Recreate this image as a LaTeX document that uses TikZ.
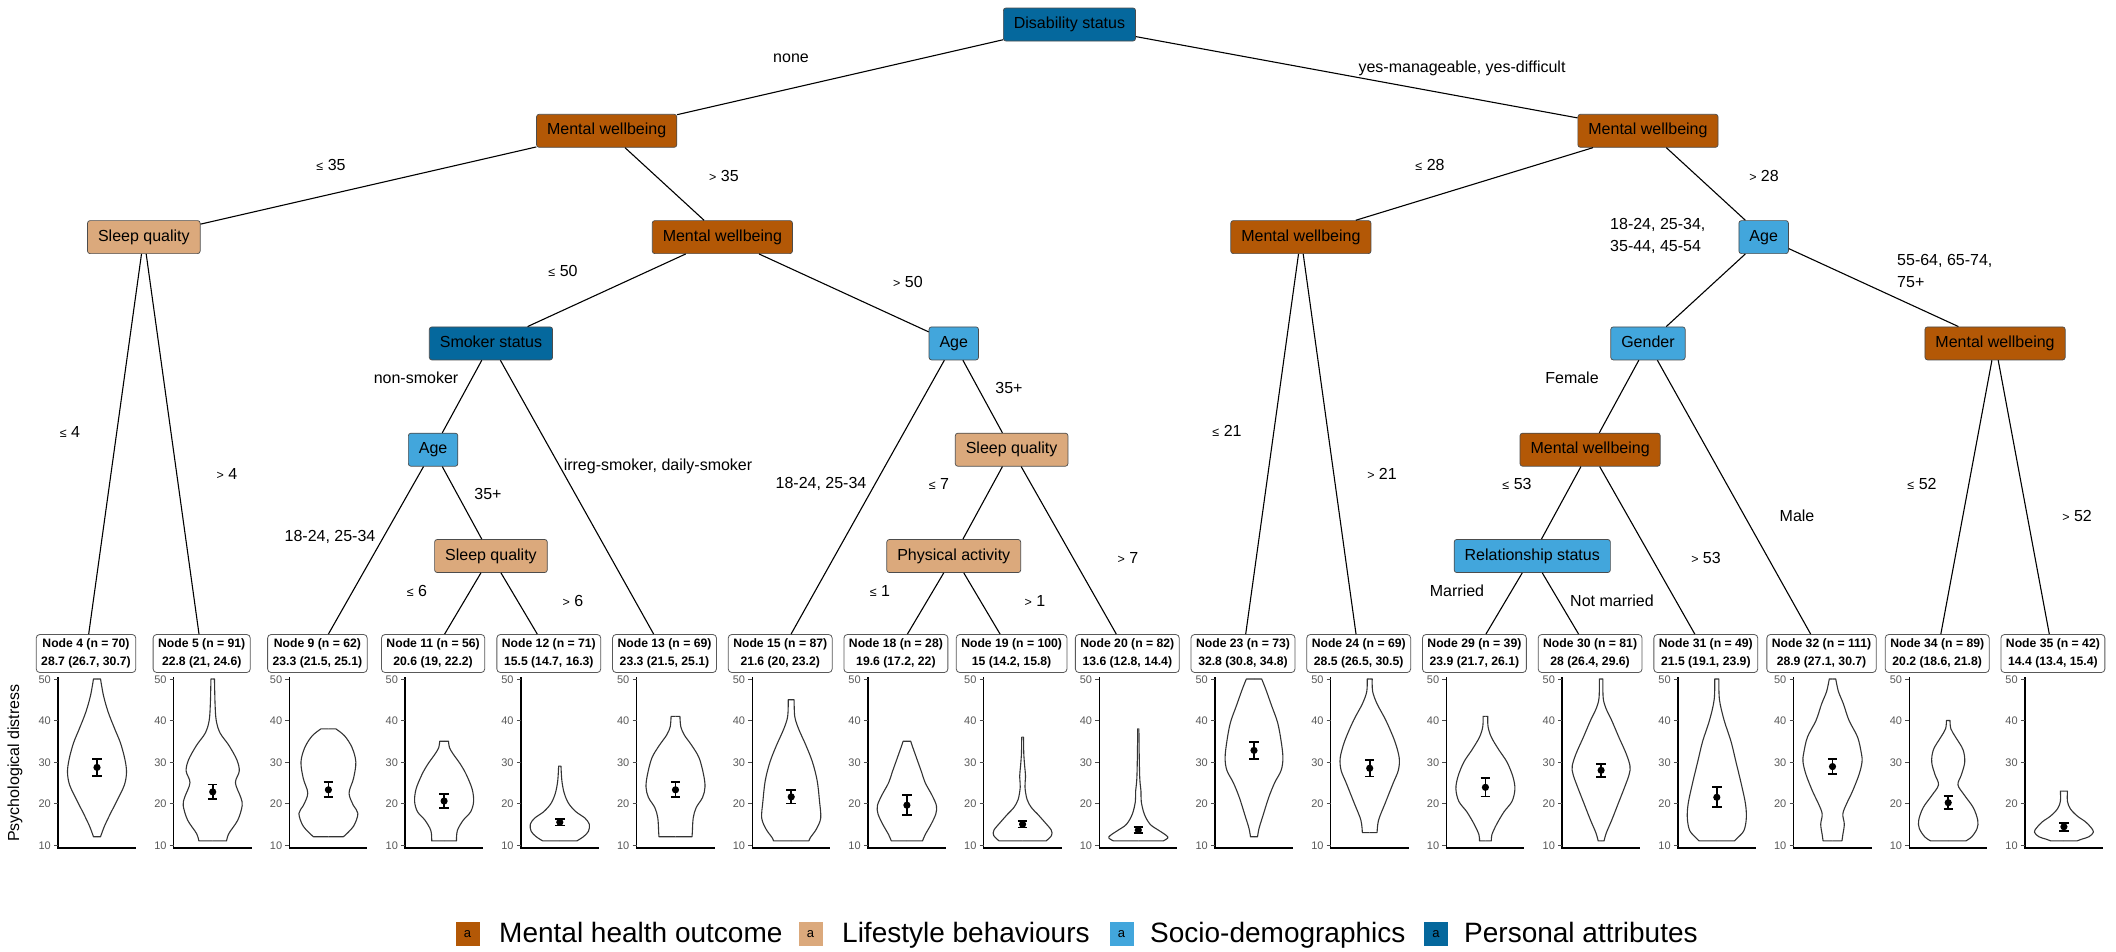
\documentclass[tikz,border=0pt]{standalone}
\usepackage{fontspec}
\setmainfont{Liberation Sans}
\definecolor{mho}{HTML}{B35806}
\definecolor{life}{HTML}{DBA97C}
\definecolor{socio}{HTML}{42A6DC}
\definecolor{pers}{HTML}{05689D}
\newcommand\lesym{{\fontsize{12.5}{12.5}\selectfont ≤}~}
\newcommand\gtsym{{\fontsize{12.5}{12.5}\selectfont >}~}
\tikzset{
 split/.style={draw=black!70, rounded corners=2.5pt, minimum height=33pt, inner xsep=10.5pt, inner ysep=0pt, font=\fontsize{16}{19}\selectfont, line width=0.7pt, text height=11.5pt, text depth=3.5pt},
 elab/.style={font=\fontsize{16}{22}\selectfont, inner sep=0pt, text height=11.5pt, text depth=3.5pt},
 leafbox/.style={draw=black!65, fill=white, rounded corners=3.5pt, align=center, font=\fontsize{12.2}{17.5}\selectfont\bfseries, inner xsep=5pt, inner ysep=4pt, line width=0.8pt, minimum height=38pt},
 conn/.style={line width=1.1pt, black},
 vio/.style={line width=1.1pt, black!80, line join=round},
 axisline/.style={line width=1.4pt, black},
 tickmark/.style={line width=1pt, black!70},
 ticklab/.style={font=\fontsize{11}{13}\selectfont, text=black!65, inner sep=0pt, anchor=east, text height=8pt, text depth=0pt},
 ebar/.style={line width=1.8pt, black},
 lkey/.style={minimum size=24pt, inner sep=0pt, font=\fontsize{13}{15}\selectfont},
 ltext/.style={font=\fontsize{28}{33}\selectfont, anchor=west, inner sep=0pt, text height=20pt, text depth=6pt}
}
% #1 panel index, #2 node id, #3 n, #4 mean, #5 lo, #6 hi, #7 top value, #8 bottom value, #9 half profile
\newcommand\leafpanel[9]{%
 \pgfmathsetmacro\ax{58+115.7*(#1-1)}%
 \pgfmathsetmacro\lx{\ax+28}%
 \pgfmathsetmacro\vx{\ax+39}%
 \pgfmathsetmacro\axe{\ax+78}%
 \node[leafbox] (n#2) at (\lx,653.5) {Node #2 (n = #3)\\#4 (#5, #6)};
 \draw[axisline] (\ax,677) -- (\ax,848) -- (\axe,848);
 \foreach \v in {10,20,30,40,50}{%
   \pgfmathsetmacro\ty{845-4.15*(\v-10)}%
   \draw[tickmark] (\ax-4,\ty) -- (\ax,\ty);
   \node[ticklab] (tl#2-\v) at (\ax-7,\ty) {\v};
 }
 \begin{scope}[shift={(\vx,886.5)},x=29.5pt,y=4.15pt]
   \draw[vio] (0,#7) -- plot[smooth,tension=0.55] coordinates {#9} -- (0,#8);
   \draw[vio,xscale=-1] (0,#7) -- plot[smooth,tension=0.55] coordinates {#9} -- (0,#8);
   \draw[ebar] (-0.16,#5) -- (0.16,#5) (0,#5) -- (0,#6) (-0.16,#6) -- (0.16,#6);
   \fill (0,#4) circle[radius=3.6pt];
 \end{scope}
}
\begin{document}
\begin{tikzpicture}[x=1pt,y=-1pt]
\useasboundingbox[fill=white] (0,0) rectangle (2116,951);

% inner nodes
\node[split,fill=pers] (ds) at (1069.45,24.5) {Disability status};
\node[split,fill=mho] (mA) at (606.65,130.8) {Mental wellbeing};
\node[split,fill=mho] (mJ) at (1647.95,130.8) {Mental wellbeing};
\node[split,fill=life] (sB) at (143.85,237.1) {Sleep quality};
\node[split,fill=mho] (mC) at (722.35,237.1) {Mental wellbeing};
\node[split,fill=mho] (mK) at (1300.85,237.1) {Mental wellbeing};
\node[split,fill=socio] (aL) at (1763.65,237.1) {Age};
\node[split,fill=pers] (sD) at (490.95,343.4) {Smoker status};
\node[split,fill=socio] (aG) at (953.75,343.4) {Age};
\node[split,fill=socio] (gM) at (1647.95,343.4) {Gender};
\node[split,fill=mho] (mP) at (1995.05,343.4) {Mental wellbeing};
\node[split,fill=socio] (aE) at (433.1,449.7) {Age};
\node[split,fill=life] (sH) at (1011.6,449.7) {Sleep quality};
\node[split,fill=mho] (mN) at (1590.1,449.7) {Mental wellbeing};
\node[split,fill=life] (sF) at (490.95,556) {Sleep quality};
\node[split,fill=life] (pI) at (953.75,556) {Physical activity};
\node[split,fill=socio] (rO) at (1532.25,556) {Relationship status};

% leaves
\leafpanel{1}{4}{70}{28.7}{26.7}{30.7}{50}{12}{(0.12,50) (0.22,46) (0.38,42) (0.6,38) (0.8,34.5) (0.95,30.5) (1,27.5) (0.93,24.5) (0.7,21) (0.45,17.5) (0.25,14.5) (0.12,12)}
\leafpanel{2}{5}{91}{22.8}{21}{24.6}{50}{11}{(0.06,50) (0.08,44) (0.12,40) (0.25,37) (0.55,34) (0.82,30.5) (0.9,27.8) (0.77,25) (0.95,21.5) (1,19.5) (0.85,16) (0.55,12.8) (0.47,11)}
\leafpanel{3}{9}{62}{23.3}{21.5}{25.1}{38}{12}{(0.25,38) (0.55,36.3) (0.8,33.5) (0.93,30) (0.85,26) (0.7,22.5) (0.85,19.5) (1,17.6) (0.85,14.5) (0.51,12)}
\leafpanel{4}{11}{56}{20.6}{19}{22.2}{35}{11}{(0.15,35) (0.18,33.5) (0.3,32) (0.55,29.5) (0.75,27) (0.95,23.5) (1,20.5) (0.9,18) (0.65,16) (0.45,13.5) (0.42,11)}
\leafpanel{5}{12}{71}{15.5}{14.7}{16.3}{29}{11}{(0.04,29) (0.07,25.5) (0.15,22.5) (0.3,20) (0.55,18) (0.85,16.5) (1,15) (0.97,13.3) (0.8,12) (0.58,11)}
\leafpanel{6}{13}{69}{23.3}{21.5}{25.1}{41}{12}{(0.15,41) (0.18,38.5) (0.3,36.5) (0.55,34) (0.8,31) (0.95,27) (1,24) (0.92,21.5) (0.7,19) (0.6,16.5) (0.57,13) (0.56,12)}
\leafpanel{7}{15}{87}{21.6}{20}{23.2}{45}{11}{(0.1,45) (0.12,41) (0.25,38) (0.5,34) (0.72,30) (0.88,25.5) (0.96,20.5) (1,16.5) (0.85,13.8) (0.65,11.8) (0.6,11)}
\leafpanel{8}{18}{28}{19.6}{17.2}{22}{35}{11}{(0.13,35) (0.2,33.5) (0.35,30.5) (0.5,27.5) (0.62,25) (0.85,22) (1,19.5) (0.98,17.5) (0.82,15) (0.62,12.5) (0.53,11)}
\leafpanel{9}{19}{100}{15}{14.2}{15.8}{36}{11}{(0.03,36) (0.04,32) (0.07,29) (0.1,26.5) (0.08,24) (0.15,21) (0.3,19) (0.5,17.5) (0.75,15.5) (0.97,13.6) (0.98,12.3) (0.8,11)}
\leafpanel{10}{20}{82}{13.6}{12.8}{14.4}{38}{11}{(0.02,38) (0.03,32) (0.05,26) (0.09,23) (0.1,20.5) (0.2,17.5) (0.4,15) (0.7,13.5) (0.95,12.3) (1,11.7) (0.85,11)}
\leafpanel{11}{23}{73}{32.8}{30.8}{34.8}{50}{12}{(0.26,50) (0.4,47.5) (0.6,43.5) (0.8,39.5) (0.92,35) (0.98,31) (0.92,28) (0.7,25) (0.5,21.5) (0.3,17) (0.17,14) (0.12,12)}
\leafpanel{12}{24}{69}{28.5}{26.5}{30.5}{50}{13}{(0.085,50) (0.1,47) (0.25,44) (0.55,40) (0.85,35) (1,31) (0.97,28) (0.8,25) (0.52,20) (0.3,16) (0.25,13)}
\leafpanel{13}{29}{39}{23.9}{21.7}{26.1}{41}{11}{(0.08,41) (0.09,38.5) (0.2,36) (0.45,33) (0.73,30) (0.93,26.5) (1,23.5) (0.9,20.5) (0.63,18) (0.38,15) (0.22,12.5) (0.2,11)}
\leafpanel{14}{30}{81}{28}{26.4}{29.6}{50}{11}{(0.06,50) (0.07,45.5) (0.16,43) (0.36,40) (0.6,36) (0.85,32) (0.98,29) (0.95,27) (0.8,24) (0.58,20) (0.36,16) (0.18,13) (0.1,11)}
\leafpanel{15}{31}{49}{21.5}{19.1}{23.9}{50}{11}{(0.07,50) (0.09,45) (0.25,40) (0.48,35) (0.65,30) (0.82,25) (0.97,20) (1,16.5) (0.92,13.5) (0.7,11.7) (0.6,11)}
\leafpanel{16}{32}{111}{28.9}{27.1}{30.7}{50}{11}{(0.11,50) (0.2,47) (0.37,44) (0.56,40) (0.85,36) (0.98,32) (1,30) (0.9,27) (0.68,23) (0.48,20) (0.35,17.5) (0.4,15) (0.35,12.5) (0.32,11)}
\leafpanel{17}{34}{89}{20.2}{18.6}{21.8}{40}{11}{(0.06,40) (0.09,38) (0.25,36) (0.5,33) (0.56,30) (0.45,27) (0.33,24.5) (0.55,22) (0.85,19) (1,16) (0.98,14) (0.8,12) (0.6,11)}
\leafpanel{18}{35}{42}{14.4}{13.4}{15.4}{23}{11}{(0.12,23) (0.12,20.5) (0.22,18.7) (0.45,17) (0.73,15.6) (0.92,14.2) (1,13.1) (0.85,12) (0.6,11.4) (0.45,11)}

% connectors
\draw[conn] (ds) -- (mA);
\draw[conn] (ds) -- (mJ);
\draw[conn] (mA) -- (sB);
\draw[conn] (mA) -- (mC);
\draw[conn] (sB) -- (n4);
\draw[conn] (sB) -- (n5);
\draw[conn] (mC) -- (sD);
\draw[conn] (mC) -- (aG);
\draw[conn] (sD) -- (aE);
\draw[conn] (sD) -- (n13);
\draw[conn] (aE) -- (n9);
\draw[conn] (aE) -- (sF);
\draw[conn] (sF) -- (n11);
\draw[conn] (sF) -- (n12);
\draw[conn] (aG) -- (n15);
\draw[conn] (aG) -- (sH);
\draw[conn] (sH) -- (pI);
\draw[conn] (sH) -- (n20);
\draw[conn] (pI) -- (n18);
\draw[conn] (pI) -- (n19);
\draw[conn] (mJ) -- (mK);
\draw[conn] (mJ) -- (aL);
\draw[conn] (mK) -- (n23);
\draw[conn] (mK) -- (n24);
\draw[conn] (aL) -- (gM);
\draw[conn] (aL) -- (mP);
\draw[conn] (gM) -- (mN);
\draw[conn] (gM) -- (n32);
\draw[conn] (mN) -- (rO);
\draw[conn] (mN) -- (n31);
\draw[conn] (rO) -- (n29);
\draw[conn] (rO) -- (n30);
\draw[conn] (mP) -- (n34);
\draw[conn] (mP) -- (n35);

% edge labels
\node[elab] (e1) at (791,58) {none};
\node[elab] (e2) at (1462,68) {yes-manageable, yes-difficult};
\node[elab] (e3) at (331,166) {\lesym 35};
\node[elab] (e4) at (724,177) {\gtsym 35};
\node[elab] (e5) at (1430,166) {\lesym 28};
\node[elab] (e6) at (1764,177) {\gtsym 28};
\node[elab] (e7) at (563,272) {\lesym 50};
\node[elab] (e8) at (908,283) {\gtsym 50};
\node[elab] (e9) at (70,433) {\lesym 4};
\node[elab] (e10) at (227,475) {\gtsym 4};
\node[elab] (e11) at (416,379) {non-smoker};
\node[elab] (e12) at (658,466) {irreg-smoker, daily-smoker};
\node[elab] (e13) at (488,495) {35+};
\node[elab] (e14) at (330,537) {18-24, 25-34};
\node[elab] (e15) at (417,592) {\lesym 6};
\node[elab] (e16) at (573,602) {\gtsym 6};
\node[elab] (e17) at (1009,389) {35+};
\node[elab] (e18) at (821,484) {18-24, 25-34};
\node[elab] (e19) at (939,485) {\lesym 7};
\node[elab] (e20) at (1128,559) {\gtsym 7};
\node[elab] (e21) at (880,592) {\lesym 1};
\node[elab] (e22) at (1035,602) {\gtsym 1};
\node[elab] (e23) at (1227,432) {\lesym 21};
\node[elab] (e24) at (1382,475) {\gtsym 21};
\node[elab] (e25) at (1572,379) {Female};
\node[elab] (e26) at (1517,485) {\lesym 53};
\node[elab] (e27) at (1797,517) {Male};
\node[elab] (e28) at (1706,559) {\gtsym 53};
\node[elab] (e29) at (1457,592) {Married};
\node[elab] (e30) at (1612,602) {Not married};
\node[elab] (e31) at (1922,485) {\lesym 52};
\node[elab] (e32) at (2077,517) {\gtsym 52};
\node[elab,align=left,anchor=west,text height=,text depth=] (e33) at (1610,236) {18-24, 25-34,\\35-44, 45-54};
\node[elab,align=left,anchor=west,text height=,text depth=] (e34) at (1897,270.5) {55-64, 65-74,\\75+};

% axis title
\node[font=\fontsize{16}{19}\selectfont, rotate=90, inner sep=0pt] (ytitle) at (15,763) {Psychological distress};

% legend
\node[lkey,fill=mho] (k1) at (467.5,934) {a};
\node[ltext] (l1) at (499,935) {Mental health outcome};
\node[lkey,fill=life] (k2) at (810.5,934) {a};
\node[ltext] (l2) at (842,935) {Lifestyle behaviours};
\node[lkey,fill=socio] (k3) at (1121.5,934) {a};
\node[ltext] (l3) at (1150,935) {Socio-demographics};
\node[lkey,fill=pers] (k4) at (1436,934) {a};
\node[ltext] (l4) at (1464,935) {Personal attributes};
\end{tikzpicture}
\end{document}
